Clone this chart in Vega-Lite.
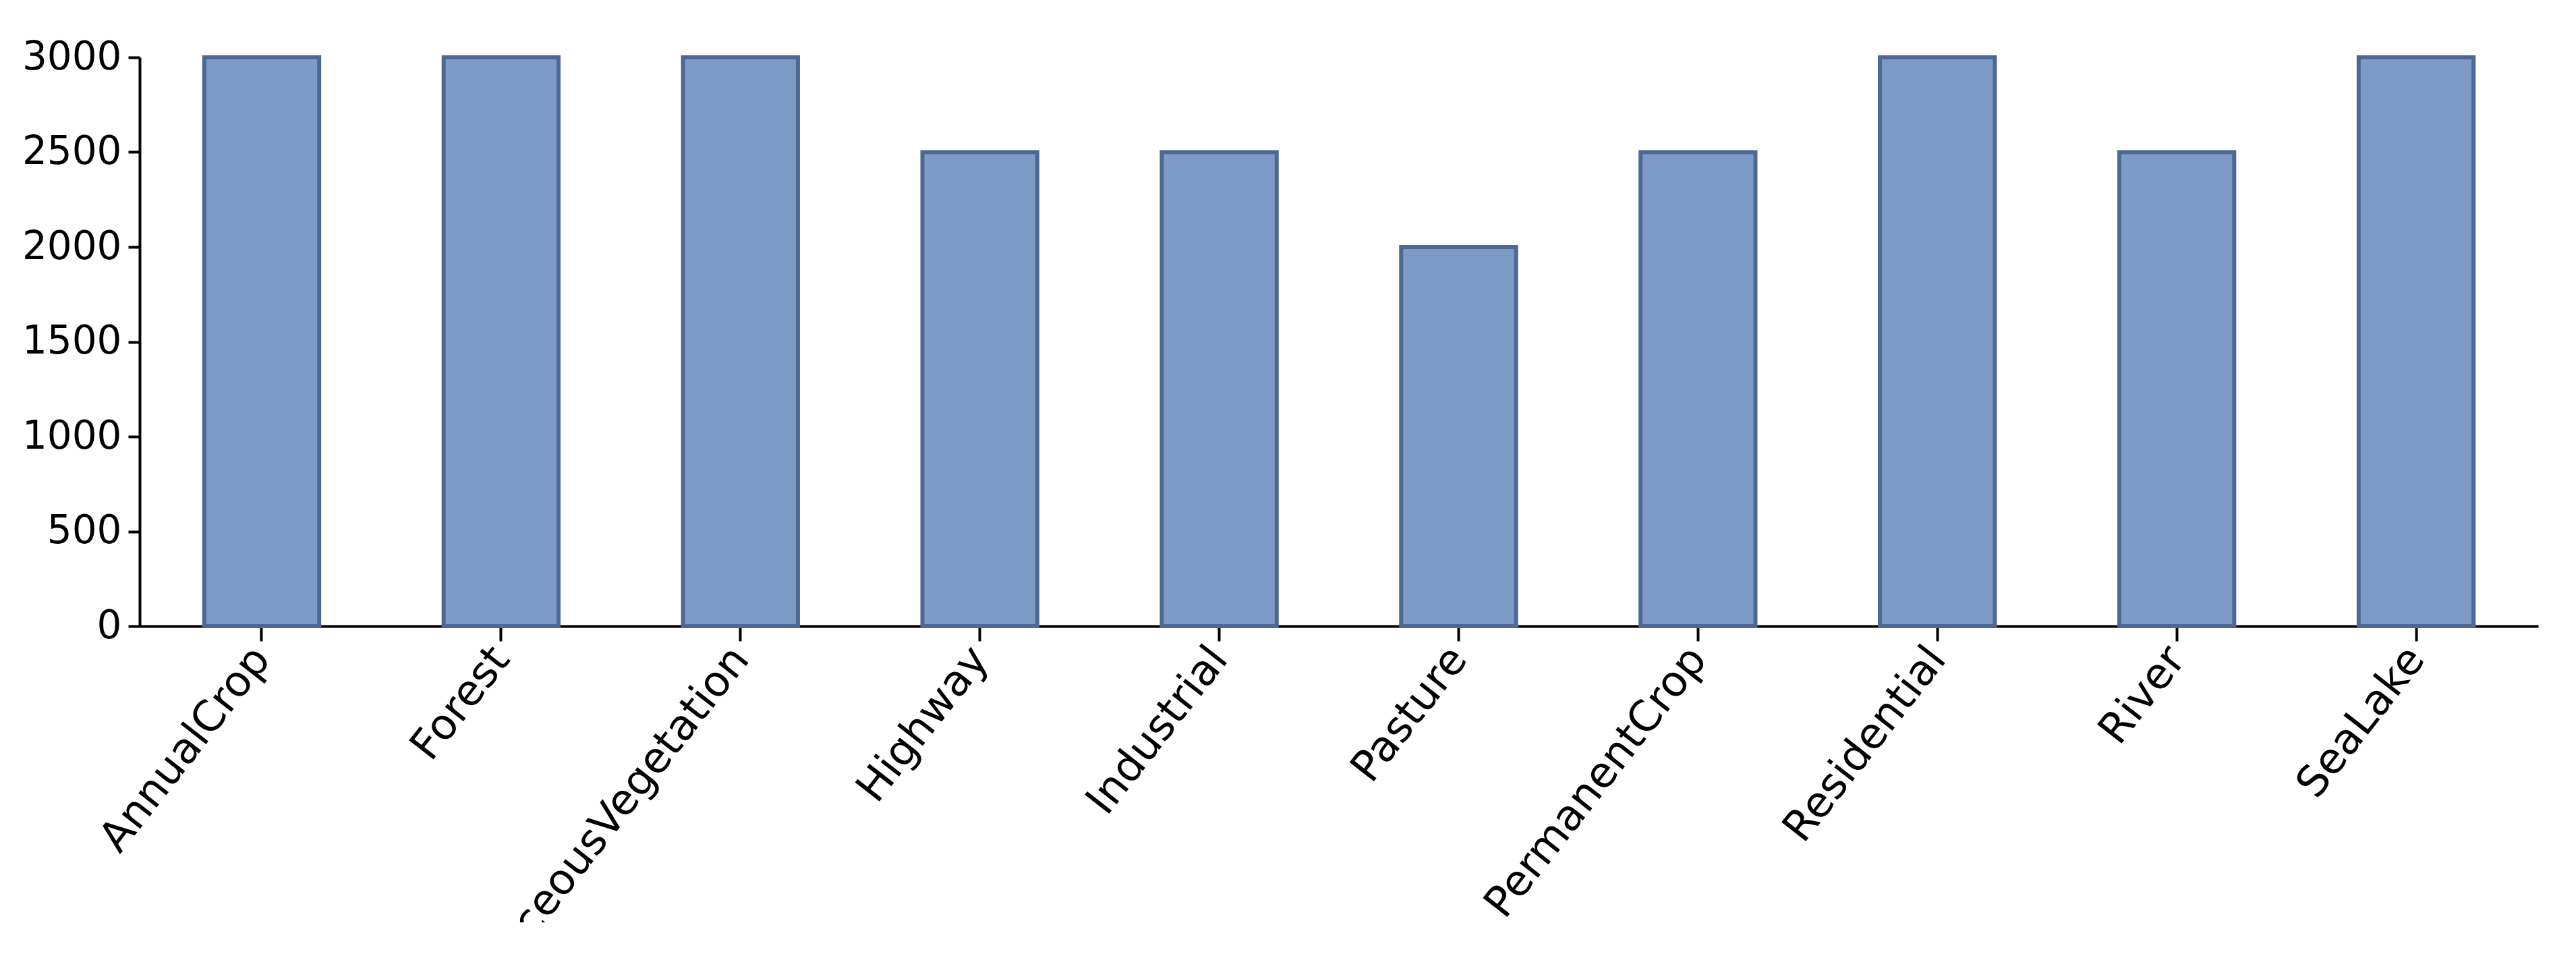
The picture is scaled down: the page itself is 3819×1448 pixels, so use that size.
{
  "$schema": "https://vega.github.io/schema/vega-lite/v6.json",
  "autosize": "none",
  "width": 3556,
  "height": 843,
  "padding": {"left": 207, "top": 85, "right": 56, "bottom": 439},
  "background": "white",
  "data": {"values": [
    {"label": "AnnualCrop", "count": 3000},
    {"label": "Forest", "count": 3000},
    {"label": "HerbaceousVegetation", "count": 3000},
    {"label": "Highway", "count": 2500},
    {"label": "Industrial", "count": 2500},
    {"label": "Pasture", "count": 2000},
    {"label": "PermanentCrop", "count": 2500},
    {"label": "Residential", "count": 3000},
    {"label": "River", "count": 2500},
    {"label": "SeaLake", "count": 3000}
  ]},
  "mark": {"type": "bar", "fill": "#7e9bc8", "stroke": "#4d6893", "strokeWidth": 6},
  "encoding": {
    "x": {
      "field": "label", "type": "nominal", "sort": null,
      "scale": {"paddingInner": 0.52, "paddingOuter": 0.27},
      "axis": {"title": null, "labelAngle": -52, "labelAlign": "right", "labelBaseline": "middle",
               "labelFont": "DejaVu Sans", "labelFontSize": 63, "labelColor": "black",
               "labelLimit": 0, "labelOverlap": false,
               "labelPadding": 16, "tickSize": 22, "tickWidth": 4, "tickColor": "black",
               "domainColor": "black", "domainWidth": 4, "grid": false}
    },
    "y": {
      "field": "count", "type": "quantitative",
      "scale": {"domain": [0, 3000], "nice": false},
      "axis": {"title": null, "values": [0, 500, 1000, 1500, 2000, 2500, 3000], "format": "d",
               "labelFont": "DejaVu Sans", "labelFontSize": 58, "labelColor": "black",
               "labelPadding": 10, "tickSize": 17, "tickWidth": 4, "tickColor": "black",
               "domainColor": "black", "domainWidth": 4, "grid": false}
    }
  },
  "config": {"view": {"stroke": null}}
}
